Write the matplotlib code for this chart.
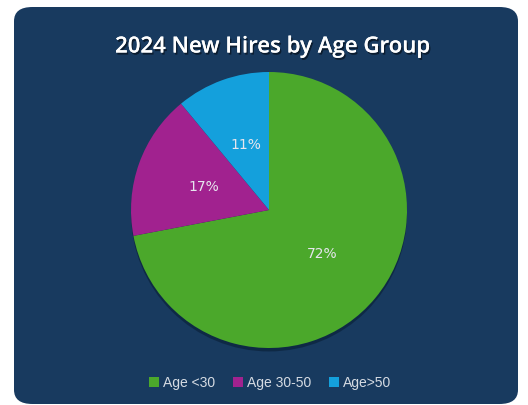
import matplotlib.pyplot as plt
import matplotlib.patheffects as pe
from matplotlib.patches import FancyBboxPatch, Circle

labels = ['Age <30', 'Age 30-50', 'Age>50']
shares = [72, 17, 11]
colors = ['#4ba82b', '#a1228f', '#14a0dc']
title = '2024 New Hires by Age Group'

navy = '#183a5f'

fig = plt.figure(figsize=(5.28, 4.05), dpi=100)
fig.patch.set_facecolor('white')

# rounded dark panel behind everything
panel = FancyBboxPatch((14 / 528, 1 / 405), 504 / 528, 397 / 405,
                       boxstyle='round,pad=0,rounding_size=0.035',
                       transform=fig.transFigure, facecolor=navy,
                       edgecolor='none', zorder=-5)
fig.patches.append(panel)

fig.text(273 / 528, 1 - 47 / 405, title, ha='center', va='center',
         color='white', fontsize=16, fontweight='semibold', family='Open Sans',
         path_effects=[pe.withSimplePatchShadow(offset=(1, -1.5), shadow_rgbFace='black', alpha=0.5),
                       pe.Normal()])

ax = fig.add_axes([131 / 528, 57 / 405, 276 / 528, 276 / 405])
ax.set_zorder(2)
ax.set_facecolor('none')

# soft shadow under the pie
ax.add_patch(Circle((0.0, -0.025), 1.0, facecolor='#0b223b', edgecolor='none',
                    alpha=0.7, zorder=0, clip_on=False))

wedges, texts, autotexts = ax.pie(shares, colors=colors, startangle=90, counterclock=False,
                                  autopct='%d%%', pctdistance=0.5, radius=1.0,
                                  wedgeprops=dict(linewidth=0, zorder=1, clip_on=False),
                                  textprops=dict(color='#e6e6ee', fontsize=10, family='DejaVu Sans'))
for t in autotexts:
    t.set_zorder(3)
ax.set_xlim(-1, 1)
ax.set_ylim(-1, 1)
ax.set_aspect('equal')
ax.axis('off')

leg = fig.legend(wedges, labels, loc='center', bbox_to_anchor=(270 / 528, 1 - 383 / 405),
                 ncol=3, frameon=False, handlelength=0.7, handleheight=0.7,
                 handletextpad=0.3, columnspacing=1.3,
                 prop=dict(family='Liberation Sans', size=10))
for t in leg.get_texts():
    t.set_color('#d5dbe3')

fig.savefig('out.png', dpi=100, facecolor=fig.get_facecolor())
